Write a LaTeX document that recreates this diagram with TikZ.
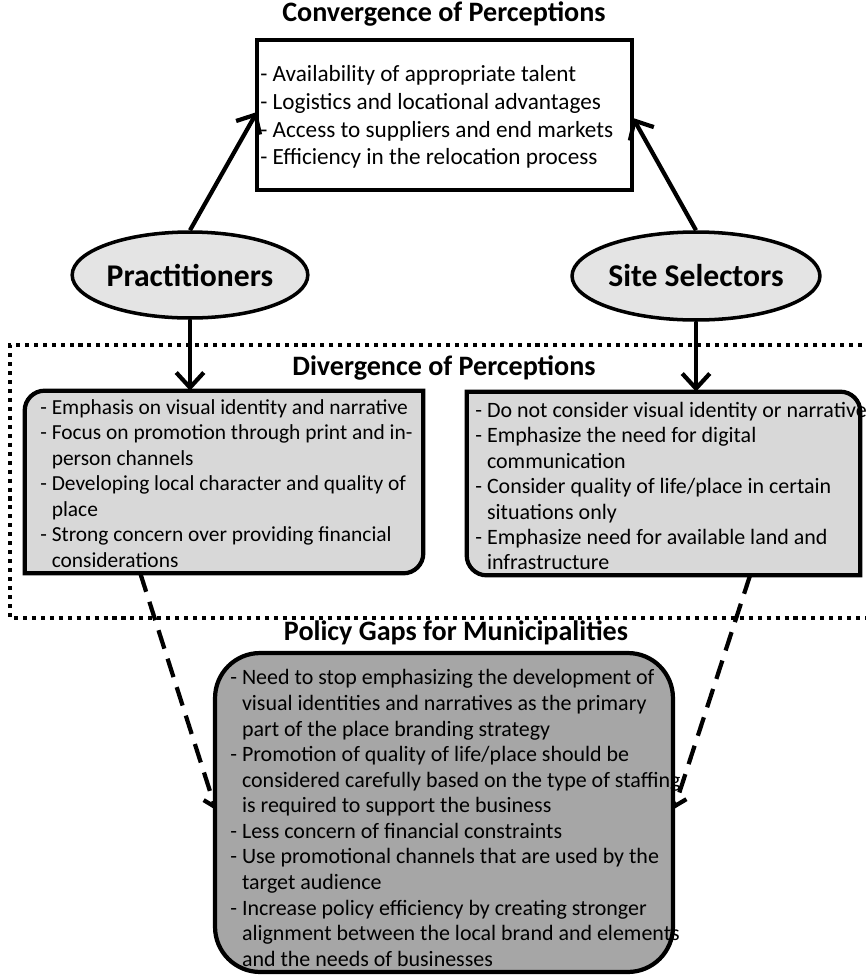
\documentclass[tikz,border=0pt]{standalone}
\usepackage{fontspec}
\setmainfont{Carlito}
\usetikzlibrary{arrows.meta,shapes.geometric,calc,backgrounds}
\definecolor{ovalGray}{HTML}{E4E4E4}
\definecolor{panelGray}{HTML}{D8D8D8}
\definecolor{gapGray}{HTML}{A6A6A6}
\newcommand{\li}{-\space}
\newcommand{\lc}{\phantom{-\space}}

\begin{document}
\begin{tikzpicture}[x=0.02cm, y=-0.02cm,
  heading/.style={font=\bfseries\fontsize{16}{19}\selectfont},
  oval/.style={ellipse, draw, line width=2pt, fill=ovalGray, inner sep=0pt, font=\bfseries\fontsize{18}{22}\selectfont},
  listbox/.style={rectangle, draw, line width=2.4pt, fill=white},
  shell/.style={rectangle, inner sep=0pt},
  panelline/.style={draw, line width=2.4pt, fill=panelGray},
  gapbox/.style={rectangle, rounded corners=0.9cm, draw, line width=2.4pt, fill=gapGray},
  listtext/.style={anchor=west, align=left, inner sep=0pt, font=\fontsize{12.2}{14.5}\selectfont},
  arr/.style={line width=2.4pt, -{Straight Barb[length=3mm, width=5.5mm]}},
  gaparr/.style={line width=2.4pt, dash pattern=on 11pt off 6pt, -{Straight Barb[length=2mm, width=3.5mm]}},
  dotframe/.style={line width=2.3pt, dash pattern=on 2.3pt off 2.8pt}
]
\useasboundingbox (0,0) rectangle (866,975);

% convergence
\node[heading] (convTitle) at (444,14) {Convergence of Perceptions};
\node[listbox, minimum width=7.5cm, minimum height=3cm] (conv) at (444.5,115) {};
\node[listtext, font=\fontsize{13.2}{15.8}\selectfont] (convText) at (260,117) {%
\li Availability of appropriate talent\\
\li Logistics and locational advantages\\
\li Access to suppliers and end markets\\
\li Efficiency in the relocation process};

\node[oval, minimum width=4.7cm, minimum height=1.72cm] (prac) at (190,275) {Practitioners};
\node[oval, minimum width=4.74cm, minimum height=1.76cm] (site) at (696,276) {Site Selectors};

\coordinate (convL) at (257,112);
\coordinate (convR) at (633,118);
\draw[arr] (prac.north) -- (convL);
\draw[arr] (site.north) -- (convR);

% divergence
\node[heading] (divTitle) at (444,368) {Divergence of Perceptions};
\node[shell, minimum width=7.96cm, minimum height=3.64cm] (divL) at (224,482) {};
\node[shell, minimum width=7.86cm, minimum height=3.66cm] (divR) at (663.5,483.5) {};
\draw[panelline] (divL.south west) -- ([yshift=-0.4cm]divL.north west) arc[start angle=180, end angle=90, radius=0.4cm]
  -- (divL.north east) -- ([yshift=0.4cm]divL.south east) arc[start angle=0, end angle=-90, radius=0.4cm] -- cycle;
\draw[panelline] (divR.north west) -- ([xshift=-0.4cm]divR.north east) arc[start angle=90, end angle=0, radius=0.4cm]
  -- (divR.south east) -- ([xshift=0.4cm]divR.south west) arc[start angle=270, end angle=180, radius=0.4cm] -- cycle;
\node[listtext] (divLtext) at (40,483.5) {%
\li Emphasis on visual identity and narrative\\
\li Focus on promotion through print and in-\\
\lc person channels\\
\li Developing local character and quality of\\
\lc place\\
\li Strong concern over providing financial\\
\lc considerations};
\node[listtext, font=\fontsize{12.5}{14.5}\selectfont] (divRtext) at (475,486) {%
\li Do not consider visual identity or narrative\\
\li Emphasize the need for digital\\
\lc communication\\
\li Consider quality of life/place in certain\\
\lc situations only\\
\li Emphasize need for available land and\\
\lc infrastructure};
\draw[arr] (prac.south) -- (prac.south |- divL.north);
\draw[arr] (site.south) -- (site.south |- divR.north);

% policy gaps
\node[heading] (gapTitle) at (456,633) {Policy Gaps for Municipalities};
\node[gapbox, minimum width=9.16cm, minimum height=6.38cm] (gaps) at (444,812.5) {};
\node[listtext, font=\fontsize{12.5}{14.55}\selectfont] (gapText) at (230,818) {%
\li Need to stop emphasizing the development of\\
\lc visual identities and narratives as the primary\\
\lc part of the place branding strategy\\
\li Promotion of quality of life/place should be\\
\lc considered carefully based on the type of staffing\\
\lc is required to support the business\\
\li Less concern of financial constraints\\
\li Use promotional channels that are used by the\\
\lc target audience\\
\li Increase policy efficiency by creating stronger\\
\lc alignment between the local brand and elements\\
\lc and the needs of businesses};

\coordinate (gapL) at (216,810);
\coordinate (gapR) at (674,809);
\begin{scope}[on background layer]
\draw[dotframe] (880,345) -- (10,345) -- (10,618) -- (880,618);
\draw[gaparr] ($(divL.south west)!0.29!(divL.south east)$) -- (gapL);
\draw[gaparr] ($(divR.south west)!0.72!(divR.south east)$) -- (gapR);
\end{scope}
\end{tikzpicture}
\end{document}
